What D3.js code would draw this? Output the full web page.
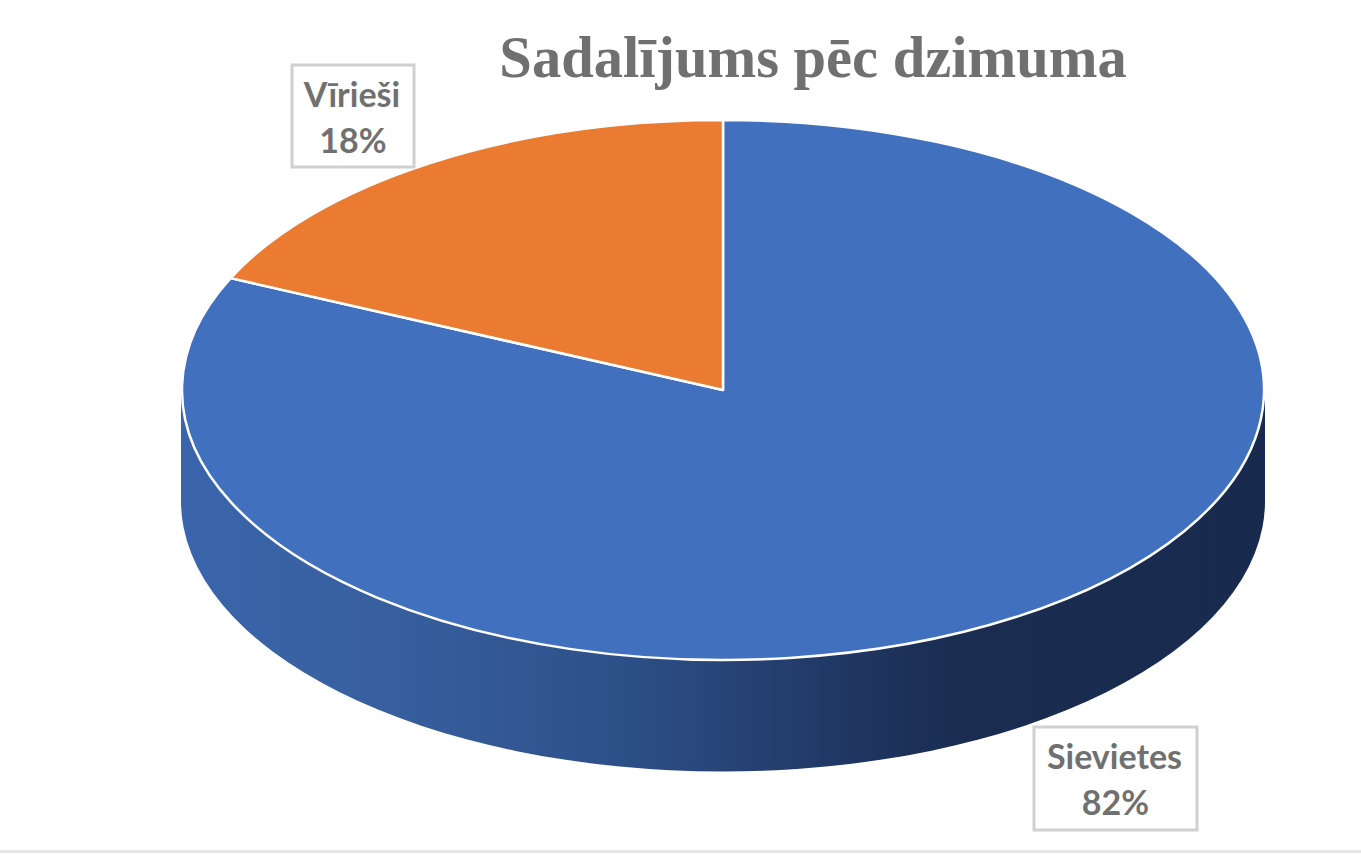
<!DOCTYPE HTML>
<html>
<head>
    <meta charset="UTF-8">
    <title>Sadalījums pēc dzimuma</title>
    <script src="https://d3js.org/d3.v7.min.js"></script>
    <style type="text/css">
        html, body { margin: 0; padding: 0; background: #fff; overflow: hidden; }
        svg { display: block; }
    </style>
</head>
<body>
<svg id="chart" width="1361" height="854"></svg>
<script type="text/javascript">
    var categories = ["Sievietes", "Vīrieši"];
    var values = [81.8, 18.2];
    var percentLabels = ["82%", "18%"];
    var chartTitle = "Sadalījums pēc dzimuma";

    var colors = d3.scaleOrdinal().domain(categories).range(["#4170bf", "#ea7b31"]);

    var cx = 723, cy = 390, rx = 541, ry = 270, depth = 111;
    var labelFont = "Lato, 'Open Sans', sans-serif";
    var labelBoxes = [
        { x: 1034, y: 727, w: 163, h: 103 },
        { x: 292, y: 65, w: 122, h: 102 }
    ];

    var svg = d3.select("#chart");

    // side of the disc goes left to right, lighter to dark
    var grad = svg.append("defs").append("linearGradient")
        .attr("id", "side")
        .attr("gradientUnits", "userSpaceOnUse")
        .attr("x1", -rx).attr("x2", rx)
        .attr("y1", 0).attr("y2", 0);
    grad.append("stop").attr("offset", "0").attr("stop-color", "#3a65ac");
    grad.append("stop").attr("offset", "0.18").attr("stop-color", "#38609f");
    grad.append("stop").attr("offset", "0.4").attr("stop-color", "#2d5089");
    grad.append("stop").attr("offset", "0.63").attr("stop-color", "#1f3560");
    grad.append("stop").attr("offset", "0.72").attr("stop-color", "#1a2c50");
    grad.append("stop").attr("offset", "1").attr("stop-color", "#182a4d");

    var squash = ry / rx;
    var disc = svg.append("g").attr("transform", "translate(" + cx + "," + cy + ") scale(1," + squash + ")");

    var wall = d3.path();
    wall.moveTo(-rx - 1, 0);
    wall.lineTo(-rx - 1, depth / squash);
    wall.arc(0, depth / squash, rx + 1, Math.PI, 0, true);
    wall.lineTo(rx + 1, 0);
    wall.closePath();
    disc.append("path").attr("d", wall.toString()).attr("fill", "url(#side)");

    var pie = d3.pie().sort(null).value(function (d) { return d; });
    var arc = d3.arc().innerRadius(0).outerRadius(rx);

    disc.selectAll("path.slice")
        .data(pie(values))
        .enter().append("path")
        .attr("class", "slice")
        .attr("d", arc)
        .attr("fill", function (d, i) { return colors(categories[i]); })
        .attr("stroke", "#fff")
        .attr("stroke-width", 2.5)
        .attr("stroke-linejoin", "round")
        .attr("vector-effect", "non-scaling-stroke");

    svg.append("text")
        .attr("x", 813).attr("y", 77)
        .attr("text-anchor", "middle")
        .attr("font-family", "'Liberation Serif', serif")
        .attr("font-weight", "bold")
        .attr("font-size", 58.5)
        .attr("fill", "#707070")
        .text(chartTitle);

    var labels = svg.selectAll("g.label")
        .data(categories)
        .enter().append("g")
        .attr("class", "label");

    labels.append("rect")
        .attr("x", function (d, i) { return labelBoxes[i].x; })
        .attr("y", function (d, i) { return labelBoxes[i].y; })
        .attr("width", function (d, i) { return labelBoxes[i].w; })
        .attr("height", function (d, i) { return labelBoxes[i].h; })
        .attr("fill", "#fff")
        .attr("stroke", "#d0d0d0")
        .attr("stroke-width", 3);

    labels.append("text")
        .attr("x", function (d, i) { return labelBoxes[i].x + labelBoxes[i].w / 2 - 1; })
        .attr("y", function (d, i) { return labelBoxes[i].y + 42; })
        .attr("text-anchor", "middle")
        .attr("font-family", labelFont)
        .attr("font-weight", "bold")
        .attr("font-size", 34)
        .attr("fill", "#707070")
        .text(function (d) { return d; });

    labels.append("text")
        .attr("x", function (d, i) { return labelBoxes[i].x + labelBoxes[i].w / 2; })
        .attr("y", function (d, i) { return labelBoxes[i].y + 88; })
        .attr("text-anchor", "middle")
        .attr("font-family", labelFont)
        .attr("font-weight", "bold")
        .attr("font-size", 34)
        .attr("fill", "#707070")
        .text(function (d, i) { return percentLabels[i]; });

    // thin grey rule at the bottom of the picture
    svg.append("line")
        .attr("x1", 0).attr("x2", 1361)
        .attr("y1", 851.5).attr("y2", 851.5)
        .attr("stroke", "#e4e4e4")
        .attr("stroke-width", 3);
</script>
</body>
</html>
